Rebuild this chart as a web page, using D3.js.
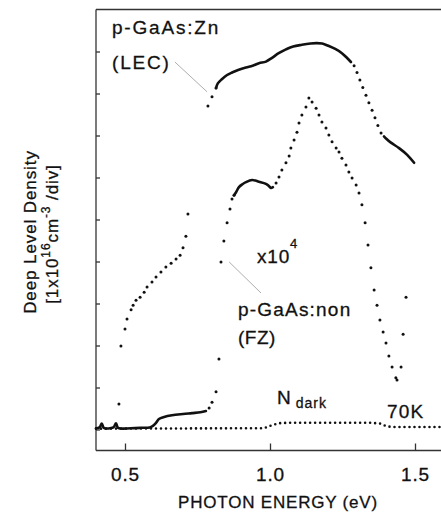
<!DOCTYPE html>
<html>
<head>
<meta charset="utf-8">
<script src="https://cdn.jsdelivr.net/npm/d3@7"></script>
<style>
  body { margin: 0; background: #fff; }
  text { font-family: "Liberation Sans", Arial, sans-serif; fill: #111; stroke: #111; stroke-width: 0.3px; }
</style>
</head>
<body>
<script>
const width = 441;
const height = 513;

// plot frame (the right edge runs off the picture)
const margin = {top: 9, left: 96, bottom: 63};

// Photon energy (eV) vs deep level density (divisions)
// p-GaAs:Zn (LEC), drawn as separate dotted and dense parts
const lecLow = [[0.479,0.61],[0.486,1.99],[0.500,2.39],[0.507,2.63],[0.521,2.85],[0.528,2.96],
  [0.538,3.08],[0.552,3.15],[0.566,3.27],[0.576,3.39],[0.593,3.51],[0.607,3.63],[0.624,3.75],
  [0.641,3.87],[0.659,3.96],[0.676,4.06],[0.690,4.15],[0.700,4.33],[0.710,4.60],[0.717,5.13]];
const lecRise = [[0.786,7.70],[0.800,7.92],[0.814,8.13]];
const lecTop = [[0.814,8.13],[0.820,8.24],[0.834,8.34],[0.852,8.44],[0.869,8.50],[0.890,8.56],
  [0.917,8.62],[0.940,8.66],[0.962,8.72],[0.986,8.76],[1.007,8.85],[1.030,8.96],[1.055,9.05],
  [1.080,9.12],[1.110,9.16],[1.140,9.19],[1.160,9.20],[1.180,9.19],[1.203,9.13],[1.225,9.06],
  [1.248,8.96],[1.265,8.85],[1.279,8.75]];
const lecFall = [[1.290,8.66],[1.300,8.50],[1.310,8.32],[1.320,8.14],[1.331,7.96],[1.341,7.78],
  [1.352,7.60],[1.362,7.42],[1.372,7.24],[1.383,7.06]];
const lecTail = [[1.393,6.98],[1.400,6.93],[1.417,6.83],[1.445,6.70],[1.473,6.54],[1.497,6.35]];

// p-GaAs:non (FZ), x10^4
const fzBase = [[0.400,0.03],[0.412,0.05],[0.420,0.14],[0.427,0.04],[0.460,0.05],[0.469,0.15],
  [0.476,0.04],[0.520,0.03],[0.560,0.04],[0.585,0.05],[0.595,0.08],[0.607,0.16],[0.617,0.25],
  [0.635,0.30],[0.662,0.34],[0.700,0.37],[0.731,0.39],[0.760,0.41],[0.779,0.44]];
const fzRise = [[0.790,0.51],[0.800,0.65],[0.814,0.90],[0.824,1.68],[0.831,3.99],[0.841,4.49],
  [0.852,4.92],[0.862,5.25],[0.869,5.49],[0.876,5.58]];
const fzShoulder = [[0.876,5.58],[0.883,5.65],[0.893,5.77],[0.905,5.84],[0.917,5.89],[0.938,5.94],
  [0.962,5.90],[0.986,5.85],[0.996,5.80],[1.003,5.75],[1.010,5.77]];
const fzPeak = [[1.021,5.87],[1.031,6.01],[1.041,6.18],[1.055,6.35],[1.066,6.51],[1.072,6.70],
  [1.083,6.89],[1.093,7.08],[1.100,7.30],[1.110,7.49],[1.124,7.68],[1.134,7.89],[1.145,7.80],
  [1.159,7.65],[1.169,7.49],[1.179,7.32],[1.193,7.18],[1.203,7.01],[1.214,6.85],[1.228,6.70],
  [1.238,6.61],[1.248,6.46],[1.262,6.30],[1.272,6.13],[1.283,5.99],[1.297,5.82],[1.307,5.63],
  [1.317,5.35],[1.328,4.92],[1.338,4.39],[1.348,3.85],[1.359,3.32],[1.369,2.96],[1.379,2.61],
  [1.390,2.32],[1.400,2.06],[1.410,1.75],[1.421,1.49],[1.434,1.23],[1.438,1.18],[1.452,1.49],
  [1.459,2.27],[1.469,3.15]];

// N dark at 70K
const darkLine = [[0.400,0.02],[0.980,0.03],[1.005,0.10],[1.030,0.15],[1.060,0.16],[1.350,0.16],
  [1.380,0.14],[1.400,0.08],[1.420,0.06],[1.600,0.06]];

const xTicks = [0.5, 1.0, 1.5];
const yTicks = [0, 1, 2, 3, 4, 5, 6, 7, 8, 9];

const x = d3.scaleLinear([0.4, 1.6], [margin.left, 444]);
const y = d3.scaleLinear([-0.5, 10], [height - margin.bottom + 0.5, margin.top + 0.5]);

const svg = d3.select("body").append("svg")
    .attr("width", width)
    .attr("height", height);

// frame
const frame = svg.append("g")
    .attr("fill", "none")
    .attr("stroke", "#333")
    .attr("stroke-width", 1.3);
frame.append("line").attr("x1", x(0.4)).attr("x2", x(0.4)).attr("y1", y(10)).attr("y2", y(-0.5));
frame.append("line").attr("x1", x(0.4)).attr("x2", width).attr("y1", y(10)).attr("y2", y(10));
frame.append("line").attr("x1", x(0.4)).attr("x2", width).attr("y1", y(-0.5)).attr("y2", y(-0.5));

// axes with inward ticks
const xAxis = svg.append("g")
    .attr("transform", `translate(0,${y(-0.5)})`)
    .call(d3.axisBottom(x).tickValues(xTicks).tickFormat(d3.format(".1f")).tickSize(-7).tickPadding(17));
xAxis.select(".domain").remove();
xAxis.selectAll("line").attr("stroke", "#333").attr("stroke-width", 1.3);
xAxis.selectAll("text")
    .style("font-size", "19px")
    .style("letter-spacing", "0.8px")
    .attr("fill", "#111");

const yAxis = svg.append("g")
    .attr("transform", `translate(${x(0.4)},0)`)
    .call(d3.axisLeft(y).tickValues(yTicks).tickSize(-4).tickFormat(""));
yAxis.select(".domain").remove();
yAxis.selectAll("line").attr("stroke", "#333").attr("stroke-width", 1.3);

// axis titles
svg.append("text")
    .attr("x", 278)
    .attr("y", 508)
    .attr("text-anchor", "middle")
    .style("font-size", "17px")
    .style("letter-spacing", "0.8px")
    .text("PHOTON ENERGY (eV)");

svg.append("text")
    .attr("transform", "translate(36,232) rotate(-90)")
    .attr("text-anchor", "middle")
    .style("font-size", "17px")
    .style("letter-spacing", "0.9px")
    .text("Deep Level Density");

const yt2 = svg.append("text")
    .attr("transform", "translate(58,234) rotate(-90)")
    .attr("text-anchor", "middle")
    .style("font-size", "17px")
    .style("letter-spacing", "0.9px");
yt2.append("tspan").text("[1x10");
yt2.append("tspan").attr("dy", -8).style("font-size", "12px").text("16");
yt2.append("tspan").attr("dy", 8).text("cm");
yt2.append("tspan").attr("dy", -8).style("font-size", "12px").text("-3");
yt2.append("tspan").attr("dy", 8).text(" /div]");

// series
const line = d3.line().x(d => x(d[0])).y(d => y(d[1])).curve(d3.curveCatmullRom);
const plot = svg.append("g");

function solid(data) {
  plot.append("path")
      .datum(data)
      .attr("fill", "none")
      .attr("stroke", "#111")
      .attr("stroke-width", 2.6)
      .attr("stroke-linecap", "round")
      .attr("d", line);
}

function dots(data) {
  plot.append("g")
      .attr("fill", "#111")
      .selectAll("circle")
      .data(data)
      .join("circle")
      .attr("cx", d => x(d[0]))
      .attr("cy", d => y(d[1]))
      .attr("r", 1.5);
}

dots(lecLow);
dots(lecRise);
solid(lecTop);
dots(lecFall);
solid(lecTail);

solid(fzBase);
dots(fzRise);
solid(fzShoulder);
dots(fzPeak);

plot.append("path")
    .datum(darkLine)
    .attr("fill", "none")
    .attr("stroke", "#111")
    .attr("stroke-width", 2.6)
    .attr("stroke-linecap", "round")
    .attr("stroke-dasharray", "0 5")
    .attr("d", d3.line().x(d => x(d[0])).y(d => y(d[1])));

// leader lines
const leaders = [
  [[0.672, 8.75], [0.783, 8.04]],
  [[0.859, 3.99], [0.969, 3.25]]
];
svg.append("g")
    .attr("stroke", "#999")
    .attr("stroke-width", 0.8)
    .selectAll("line")
    .data(leaders)
    .join("line")
    .attr("x1", d => x(d[0][0]))
    .attr("y1", d => y(d[0][1]))
    .attr("x2", d => x(d[1][0]))
    .attr("y2", d => y(d[1][1]));

// labels
function label(tx, ty, str, size, ls) {
  return svg.append("text")
      .attr("x", tx)
      .attr("y", ty)
      .style("font-size", size + "px")
      .style("letter-spacing", ls + "px")
      .text(str);
}

label(112, 34, "p-GaAs:Zn", 19, 1.8);
label(112, 69, "(LEC)", 19, 1.8);

const x10 = label(257, 263, "x10", 19, 0.8);
x10.append("tspan").attr("dy", -15).style("font-size", "13px").text("4");

label(238, 316, "p-GaAs:non", 19, 1.2);
label(238, 344, "(FZ)", 19, 0.5);

const nd = label(277, 404, "N", 19, 1);
nd.append("tspan").attr("dx", 4).attr("dy", 4).style("font-size", "14px").text("dark");

label(387, 418, "70K", 19, 1.2);
</script>
</body>
</html>
